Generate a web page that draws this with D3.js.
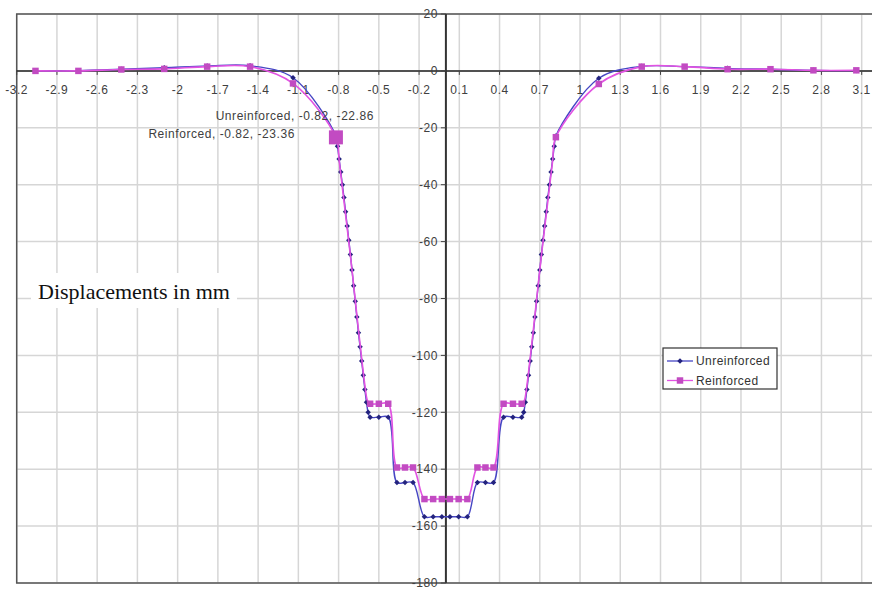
<!DOCTYPE html>
<html>
<head>
<meta charset="utf-8">
<script src="https://cdn.jsdelivr.net/npm/d3@7/dist/d3.min.js"></script>
<style>
  body { margin: 0; background: #fff; }
  svg { display: block; }
</style>
</head>
<body>
<div class="plot"></div>
<script>
/* tick values */
const xTicks = [-3.2, -2.9, -2.6, -2.3, -2, -1.7, -1.4, -1.1, -0.8, -0.5, -0.2, 0.1, 0.4, 0.7, 1, 1.3, 1.6, 1.9, 2.2, 2.5, 2.8, 3.1];
const yTicks = [20, 0, -20, -40, -60, -80, -100, -120, -140, -160, -180];

/* Unreinforced series (every point has a marker) */
const unreinforcedX = [
  -3.06, -2.74, -2.42, -2.10, -1.78, -1.46, -1.14, -0.82,
  -0.808, -0.796, -0.784, -0.772, -0.76, -0.748, -0.736, -0.724, -0.712, -0.70,
  -0.688, -0.676, -0.664, -0.652, -0.64, -0.628, -0.616, -0.604, -0.592, -0.58,
  -0.565, -0.50, -0.43,
  -0.365, -0.305, -0.245,
  -0.16, -0.095, -0.03, 0.03, 0.095, 0.16,
  0.235, 0.295, 0.355,
  0.43, 0.50, 0.565,
  0.58, 0.592, 0.604, 0.616, 0.628, 0.64, 0.652, 0.664, 0.676, 0.688,
  0.70, 0.712, 0.724, 0.736, 0.748, 0.76, 0.772, 0.784, 0.796, 0.808,
  0.82, 1.14, 1.46, 1.78, 2.10, 2.42, 2.74, 3.06
];
const unreinforcedY = [
  0, 0.1, 0.6, 1.1, 1.7, 1.8, -2.4, -22.86,
  -26.5, -31, -35.5, -40, -44.5, -49.5, -54.5, -59.5, -64.5, -70,
  -75.5, -81, -86.5, -92, -97, -102, -107, -112, -116.5, -120,
  -121.7, -121.7, -121.7,
  -144.7, -144.7, -144.7,
  -156.7, -156.7, -156.7, -156.7, -156.7, -156.7,
  -144.7, -144.7, -144.7,
  -121.7, -121.7, -121.7,
  -120, -116.5, -112, -107, -102, -97, -92, -86.5, -81, -75.5,
  -70, -64.5, -59.5, -54.5, -49.5, -44.5, -40, -35.5, -31, -26.5,
  -22.9, -2.6, 1.6, 1.5, 0.9, 0.6, 0.2, 0.1
];

/* Reinforced series: marked points */
const reinforcedX = [
  -3.06, -2.74, -2.42, -2.10, -1.78, -1.46, -1.14, -0.82,
  -0.565, -0.50, -0.43,
  -0.365, -0.305, -0.245,
  -0.16, -0.095, -0.03, 0.03, 0.095, 0.16,
  0.235, 0.295, 0.355,
  0.43, 0.50, 0.565,
  0.82, 1.14, 1.46, 1.78, 2.10, 2.42, 2.74, 3.06
];
const reinforcedY = [
  0, 0, 0.5, 0.7, 1.5, 1.5, -4.4, -23.36,
  -117, -117, -117,
  -139.4, -139.4, -139.4,
  -150.5, -150.5, -150.5, -150.5, -150.5, -150.5,
  -139.4, -139.4, -139.4,
  -117, -117, -117,
  -23.3, -4.6, 1.5, 1.5, 0.6, 0.6, 0.2, 0.2
];
/* Reinforced series: points on the steep flanks (line only, no marker) */
const reinforcedSteepX = [-0.796, -0.772, -0.748, -0.724, -0.70, -0.676, -0.652, -0.628, -0.604, -0.584,
                           0.584, 0.604, 0.628, 0.652, 0.676, 0.70, 0.724, 0.748, 0.772, 0.796];
const reinforcedSteepY = [-31.5, -41, -50.5, -60, -70, -80.5, -91, -101, -110.5, -116,
                          -116, -110.5, -101, -91, -80.5, -70, -60, -50.5, -41, -31.5];

/* highlighted point */
const highlight = {x: -0.82, unreinforced: -22.86, reinforced: -23.36};

const W = 872, H = 589;
const svg = d3.select(".plot").append("svg")
  .attr("width", W)
  .attr("height", H);

const x = d3.scaleLinear().domain([-3.2, 3.2]).range([16.7, 875.1]);
const y = d3.scaleLinear().domain([-180, 20]).range([583, 14]);

const sans = "'Liberation Sans', Arial, sans-serif";

/* grid */
svg.append("g")
  .selectAll("line")
  .data(xTicks)
  .join("line")
    .attr("x1", d => x(d)).attr("x2", d => x(d))
    .attr("y1", y(20)).attr("y2", y(-180))
    .attr("stroke", "#d6d6d6")
    .attr("stroke-width", 1.5);

svg.append("g")
  .selectAll("line")
  .data(yTicks)
  .join("line")
    .attr("x1", x(-3.2)).attr("x2", W)
    .attr("y1", d => y(d)).attr("y2", d => y(d))
    .attr("stroke", "#d6d6d6")
    .attr("stroke-width", 1.5);

/* plot border */
svg.append("path")
  .attr("d", `M${W},${y(20)}H${x(-3.2)}V${y(-180)}H${W}`)
  .attr("fill", "none")
  .attr("stroke", "#555")
  .attr("stroke-width", 1.5);

/* "Displacements in mm" box */
svg.append("rect")
  .attr("x", 31).attr("y", 273)
  .attr("width", 206).attr("height", 35)
  .attr("fill", "#fff");
svg.append("text")
  .attr("x", 38).attr("y", 299)
  .attr("font-family", "'Liberation Serif', 'Times New Roman', serif")
  .attr("font-size", 22)
  .attr("fill", "#111")
  .text("Displacements in mm");

/* x axis */
const xAxis = svg.append("g");
xAxis.append("line")
  .attr("x1", x(-3.2)).attr("x2", W)
  .attr("y1", y(0)).attr("y2", y(0))
  .attr("stroke", "#222").attr("stroke-width", 1.5);
xAxis.selectAll(".xtick")
  .data(xTicks)
  .join("line")
    .attr("class", "xtick")
    .attr("x1", d => x(d)).attr("x2", d => x(d))
    .attr("y1", y(0)).attr("y2", y(0) + 4)
    .attr("stroke", "#444");
xAxis.selectAll("text")
  .data(xTicks)
  .join("text")
    .attr("x", d => x(d))
    .attr("y", y(0) + 23)
    .attr("text-anchor", "middle")
    .attr("font-family", sans)
    .attr("font-size", 12)
    .attr("letter-spacing", 0.5)
    .attr("fill", "#404040")
    .text(d => String(d));

/* y axis */
const yAxis = svg.append("g");
yAxis.append("line")
  .attr("x1", x(0)).attr("x2", x(0))
  .attr("y1", y(20)).attr("y2", y(-180))
  .attr("stroke", "#333").attr("stroke-width", 2);
yAxis.selectAll(".ytick")
  .data(yTicks)
  .join("line")
    .attr("class", "ytick")
    .attr("x1", x(0) - 5).attr("x2", x(0))
    .attr("y1", d => y(d)).attr("y2", d => y(d))
    .attr("stroke", "#444");
yAxis.selectAll("text")
  .data(yTicks)
  .join("text")
    .attr("x", x(0) - 8)
    .attr("y", d => y(d))
    .attr("dy", "0.35em")
    .attr("text-anchor", "end")
    .attr("font-family", sans)
    .attr("font-size", 12)
    .attr("letter-spacing", 0.5)
    .attr("fill", "#404040")
    .text(d => String(d));

/* series */
const curve = d3.curveCatmullRom.alpha(0.5);
const line = d3.line().x(d => x(d[0])).y(d => y(d[1])).curve(curve);

const unrPts = unreinforcedX.map((v, i) => [v, unreinforcedY[i]]);
const reiPts = reinforcedX.map((v, i) => [v, reinforcedY[i]]);
const reiLine = reiPts
  .concat(reinforcedSteepX.map((v, i) => [v, reinforcedSteepY[i]]))
  .sort((a, b) => a[0] - b[0]);

const diamond = d3.symbol(d3.symbolSquare, 15);
const square = d3.symbol(d3.symbolSquare, 42);

svg.append("path")
  .datum(unrPts)
  .attr("d", line)
  .attr("fill", "none")
  .attr("stroke", "#4646c4")
  .attr("stroke-width", 1.4);

svg.append("g")
  .selectAll("path")
  .data(unrPts)
  .join("path")
    .attr("transform", d => `translate(${x(d[0])},${y(d[1])}) rotate(45)`)
    .attr("d", diamond)
    .attr("fill", "#23237e");

svg.append("path")
  .datum(reiLine)
  .attr("d", line)
  .attr("fill", "none")
  .attr("stroke", "#e253e2")
  .attr("stroke-width", 1.6);

svg.append("g")
  .selectAll("path")
  .data(reiPts)
  .join("path")
    .attr("transform", d => `translate(${x(d[0])},${y(d[1])})`)
    .attr("d", square)
    .attr("fill", "#c24bc2");

/* highlighted point */
svg.append("rect")
  .attr("x", x(highlight.x) - 7)
  .attr("y", y(highlight.reinforced) - 7)
  .attr("width", 14).attr("height", 14)
  .attr("fill", "#c24bc2");

/* data labels */
svg.append("text")
  .attr("x", x(highlight.x) + 38)
  .attr("y", y(highlight.unreinforced) - 16)
  .attr("text-anchor", "end")
  .attr("font-family", sans)
  .attr("font-size", 12)
  .attr("letter-spacing", 0.55)
  .attr("fill", "#404040")
  .text(`Unreinforced, ${highlight.x}, ${highlight.unreinforced}`);

svg.append("text")
  .attr("x", x(highlight.x) - 41)
  .attr("y", y(highlight.reinforced) + 1)
  .attr("text-anchor", "end")
  .attr("font-family", sans)
  .attr("font-size", 12)
  .attr("letter-spacing", 0.55)
  .attr("fill", "#404040")
  .text(`Reinforced, ${highlight.x}, ${highlight.reinforced}`);

/* legend */
const legend = svg.append("g").attr("transform", "translate(663,348)");
legend.append("rect")
  .attr("width", 114).attr("height", 41)
  .attr("fill", "#fff")
  .attr("stroke", "#333")
  .attr("stroke-width", 1.2);

const items = [
  {name: "Unreinforced", line: "#4646c4", mark: "#23237e", sym: diamond, rot: 45},
  {name: "Reinforced", line: "#e253e2", mark: "#c24bc2", sym: square, rot: 0}
];
const row = legend.selectAll(".item")
  .data(items)
  .join("g")
    .attr("class", "item")
    .attr("transform", (d, i) => `translate(0,${13 + i * 19.5})`);
row.append("line")
  .attr("x1", 4).attr("x2", 30)
  .attr("stroke", d => d.line)
  .attr("stroke-width", 1.3);
row.append("path")
  .attr("transform", d => `translate(17,0) rotate(${d.rot})`)
  .attr("d", d => d.sym())
  .attr("fill", d => d.mark);
row.append("text")
  .attr("x", 33)
  .attr("dy", "0.35em")
  .attr("font-family", sans)
  .attr("font-size", 12)
  .attr("letter-spacing", 0.45)
  .attr("fill", "#333")
  .text(d => d.name);
</script>
</body>
</html>
